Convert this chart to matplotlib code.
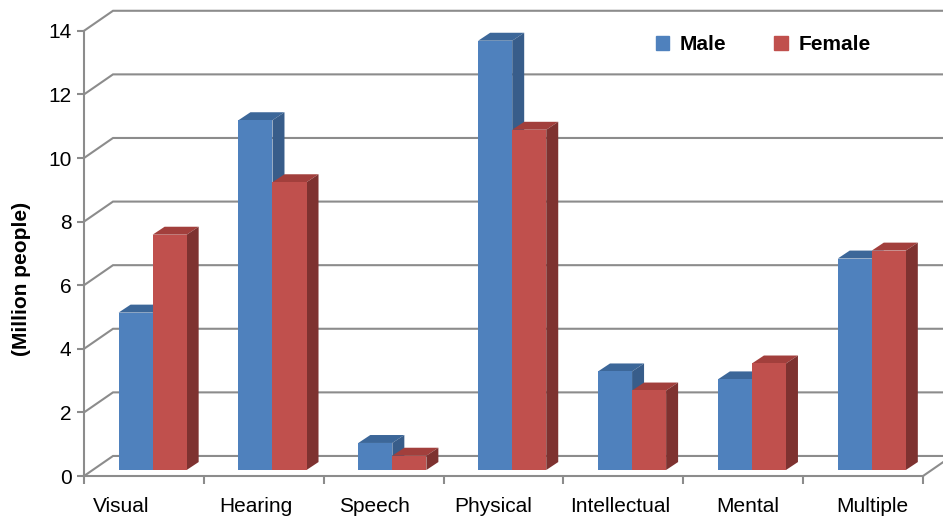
import matplotlib.pyplot as plt
from matplotlib.patches import Polygon

plt.rcParams['font.family'] = ['Liberation Sans', 'DejaVu Sans']

categories = ['Visual', 'Hearing', 'Speech', 'Physical', 'Intellectual', 'Mental', 'Multiple']
male = [4.95, 11.0, 0.85, 13.5, 3.1, 2.85, 6.65]
female = [7.4, 9.05, 0.45, 10.7, 2.5, 3.35, 6.9]
yticks = [0, 2, 4, 6, 8, 10, 12, 14]
# label shift from category centre, as placed in the original chart
label_shift = [-0.19, -0.07, -0.08, -0.09, -0.03, 0.04, 0.08]

blue = ('#4f81bd', '#3c6799', '#385d8a')   # front, top, side
red = ('#c0504d', '#a23f3c', '#7e3230')
grid_col = '#8c8c8c'

# wall depth and bar depth (data units)
wdx, wdy = 0.242, 0.63
fx, fy = 0.3 * wdx, 0.3 * wdy
bdx, bdy = 0.10, 0.25
w = 0.284

fig = plt.figure(figsize=(9.43, 5.21), dpi=100)
ax = fig.add_axes([0, 0, 1, 1])
ax.set_xlim(-1.2008, 6.6667)
ax.set_ylim(-1.415, 14.969)
ax.patch.set_visible(False)

# back wall gridlines with slanted side-wall part
for y in yticks:
    ax.plot([-0.5, -0.5 + wdx, 6.5 + wdx], [y, y + wdy, y + wdy],
            color=grid_col, lw=1.5, zorder=1, solid_joinstyle='miter')
ax.plot([6.5, 6.5 + wdx], [0, wdy], color=grid_col, lw=1.5, zorder=1)

n = len(categories)
xs = list(range(n))


def draw_bars(vals, left_off, cols, z):
    lefts = [x + left_off + fx for x in xs]
    ax.bar(lefts, vals, width=w, bottom=fy, align='edge', color=cols[0],
           zorder=z + 0.2, linewidth=0)
    for l, v in zip(lefts, vals):
        top = v + fy
        ax.add_patch(Polygon([(l, top), (l + w, top), (l + w + bdx, top + bdy), (l + bdx, top + bdy)],
                             closed=True, facecolor=cols[1], edgecolor='none', zorder=z))
        ax.add_patch(Polygon([(l + w, fy), (l + w + bdx, fy + bdy), (l + w + bdx, top + bdy), (l + w, top)],
                             closed=True, facecolor=cols[2], edgecolor='none', zorder=z))


draw_bars(male, -w, blue, 2)
draw_bars(female, 0, red, 3)

# axes
for s in ['top', 'right']:
    ax.spines[s].set_visible(False)
ax.spines['left'].set_position(('data', -0.5))
ax.spines['left'].set_bounds(0, 14)
ax.spines['bottom'].set_position(('data', 0))
ax.spines['bottom'].set_bounds(-0.5, 6.5)
for s in ['left', 'bottom']:
    ax.spines[s].set_color(grid_col)
    ax.spines[s].set_linewidth(1.5)
    ax.spines[s].set_zorder(1)

ax.set_yticks(yticks)
ax.set_yticklabels([str(t) for t in yticks])
ax.tick_params(axis='y', direction='out', length=5, width=1.5, color=grid_col,
               pad=4, labelsize=15)
ax.set_xticks([i - 0.5 for i in range(n + 1)])
ax.set_xticklabels([])
ax.set_xticks([x + s for x, s in zip(xs, label_shift)], minor=True)
ax.set_xticklabels(categories, minor=True)
ax.tick_params(axis='x', which='major', direction='out', length=6, width=1.5, color=grid_col)
ax.tick_params(axis='x', which='minor', length=0, pad=15, labelsize=15)

ax.text(22 / 943, 1 - 279 / 521, '(Million people)', transform=fig.transFigure, rotation=90,
        ha='center', va='center', fontsize=15, fontweight='bold')

handles = [plt.Rectangle((0, 0), 1, 1, color=blue[0]), plt.Rectangle((0, 0), 1, 1, color=red[0])]
ax.legend(handles, ['Male', 'Female'], ncol=2, frameon=False, loc='center left',
          bbox_to_anchor=(637 / 943, 1 - 45 / 521), prop={'weight': 'bold', 'size': 15},
          handlelength=0.65, handleheight=0.65, handletextpad=0.5, columnspacing=2.3)

fig.savefig('out.png', dpi=100)
